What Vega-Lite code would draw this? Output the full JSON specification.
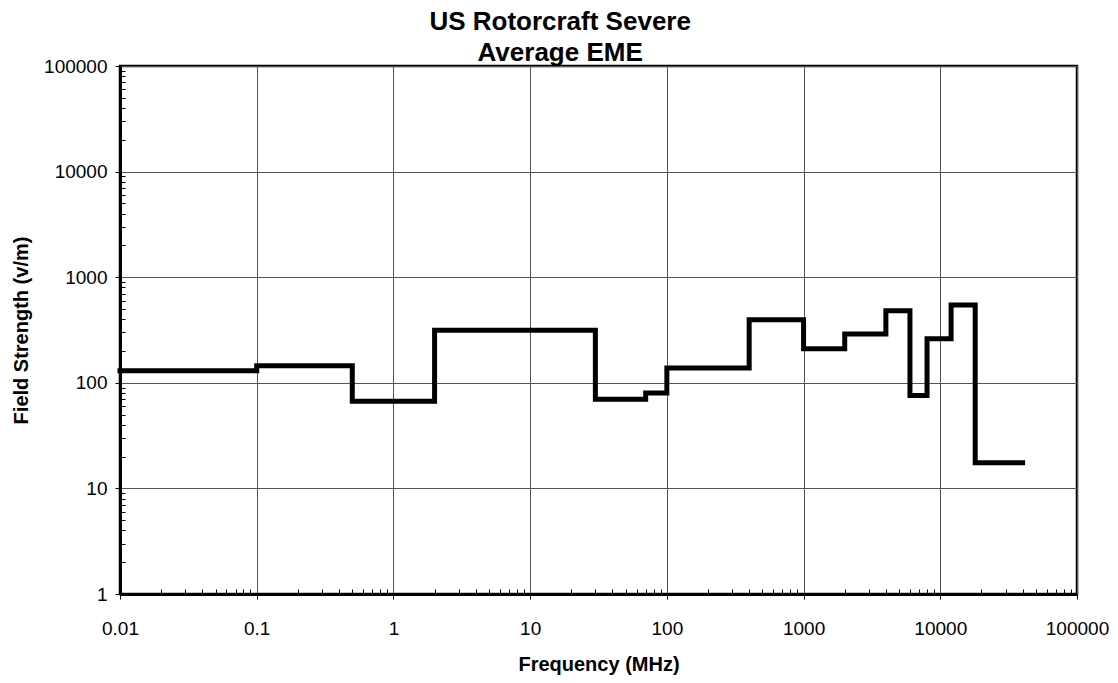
{
  "$schema": "https://vega.github.io/schema/vega-lite/v6.json",
  "width": 957,
  "height": 528,
  "autosize": {"type": "none"},
  "padding": {"left": 120, "top": 66, "right": 41, "bottom": 89},
  "background": "white",
  "title": {
    "text": ["US Rotorcraft Severe", "Average EME"],
    "font": "Liberation Sans",
    "fontSize": 26,
    "fontWeight": "bold",
    "lineHeight": 31,
    "anchor": "middle",
    "frame": "bounds",
    "offset": -9,
    "color": "black"
  },
  "config": {
    "view": {"stroke": "black", "strokeWidth": 2.5},
    "axis": {
      "labelFont": "Liberation Sans",
      "labelFontSize": 19,
      "labelColor": "black",
      "titleFont": "Liberation Sans",
      "titleFontSize": 20,
      "titleFontWeight": "bold",
      "titleColor": "black",
      "domainColor": "black",
      "domainWidth": 3,
      "tickColor": "black",
      "tickWidth": 1,
      "gridColor": "#555555",
      "gridWidth": 1,
      "labelOverlap": false,
      "labelFlush": false
    }
  },
  "data": {
    "values": [
      {"f": 0.01, "v": 130},
      {"f": 0.1, "v": 145},
      {"f": 0.5, "v": 67},
      {"f": 2, "v": 315},
      {"f": 30, "v": 70},
      {"f": 70, "v": 80},
      {"f": 100, "v": 138},
      {"f": 400, "v": 395},
      {"f": 1000, "v": 210},
      {"f": 2000, "v": 290},
      {"f": 4000, "v": 480},
      {"f": 6000, "v": 76},
      {"f": 8000, "v": 262},
      {"f": 12000, "v": 545},
      {"f": 18000, "v": 17.5},
      {"f": 40000, "v": 17.5}
    ]
  },
  "mark": {"type": "line", "interpolate": "step-after", "color": "black", "strokeWidth": 5, "strokeJoin": "miter", "strokeCap": "square"},
  "encoding": {
    "x": {
      "field": "f",
      "type": "quantitative",
      "title": "Frequency (MHz)",
      "scale": {"type": "log", "domain": [0.01, 100000], "nice": false},
      "axis": {
        "values": [0.01,0.02,0.03,0.04,0.05,0.06,0.07,0.08,0.09,0.1,0.2,0.3,0.4,0.5,0.6,0.7,0.8,0.9,1,2,3,4,5,6,7,8,9,10,20,30,40,50,60,70,80,90,100,200,300,400,500,600,700,800,900,1000,2000,3000,4000,5000,6000,7000,8000,9000,10000,20000,30000,40000,50000,60000,70000,80000,90000,100000],
        "format": "~g",
        "labelExpr": "indexof([0.01,0.1,1,10,100,1000,10000,100000], datum.value) >= 0 ? datum.label : ''",
        "tickSize": {"condition": {"test": "indexof([0.01,0.1,1,10,100,1000,10000,100000], datum.value) >= 0", "value": 5}, "value": -5},
        "gridOpacity": {"condition": {"test": "indexof([0.01,0.1,1,10,100,1000,10000,100000], datum.value) >= 0", "value": 1}, "value": 0},
        "grid": true,
        "labelPadding": 20,
        "titlePadding": 16
      }
    },
    "y": {
      "field": "v",
      "type": "quantitative",
      "title": "Field Strength (v/m)",
      "scale": {"type": "log", "domain": [1, 100000], "nice": false},
      "axis": {
        "values": [1,2,3,4,5,6,7,8,9,10,20,30,40,50,60,70,80,90,100,200,300,400,500,600,700,800,900,1000,2000,3000,4000,5000,6000,7000,8000,9000,10000,20000,30000,40000,50000,60000,70000,80000,90000,100000],
        "format": "~g",
        "labelExpr": "indexof([1,10,100,1000,10000,100000], datum.value) >= 0 ? datum.label : ''",
        "tickSize": {"condition": {"test": "indexof([1,10,100,1000,10000,100000], datum.value) >= 0", "value": 5}, "value": -5},
        "gridOpacity": {"condition": {"test": "indexof([1,10,100,1000,10000,100000], datum.value) >= 0", "value": 1}, "value": 0},
        "grid": true,
        "labelPadding": 8,
        "titlePadding": 12
      }
    }
  }
}
